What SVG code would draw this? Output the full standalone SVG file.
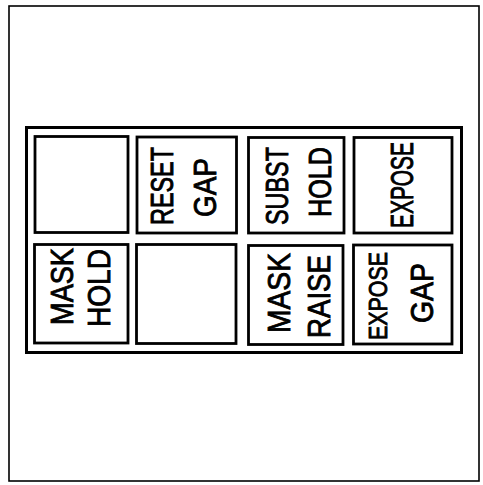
<svg xmlns="http://www.w3.org/2000/svg" width="483" height="485" viewBox="0 0 483 485">
<style>
.frame{fill:none;stroke:#000;stroke-width:1.6}
.box{fill:none;stroke:#000;stroke-width:3}
.cell{fill:#fff;stroke:#000;stroke-width:2.8}
text{font-family:"Liberation Sans",Arial,sans-serif;font-size:31px;fill:#000;stroke:#000;stroke-width:0.9;text-anchor:middle}
</style>
<rect width="483" height="485" fill="#fff"/>
<rect class="frame" x="9" y="6" width="470" height="475"/>
<g id="container"><rect class="box" x="26.5" y="127.5" width="435" height="225"/></g>
<g id="c11"><rect class="cell" x="35" y="136.5" width="93" height="96"/></g>
<g id="c12"><rect class="cell" x="137" y="137" width="99.5" height="96"/>
<text transform="translate(173,186) rotate(-90)" textLength="78" lengthAdjust="spacingAndGlyphs">RESET</text>
<text transform="translate(216,187.5) rotate(-90)" textLength="59" lengthAdjust="spacingAndGlyphs">GAP</text></g>
<g id="c13"><rect class="cell" x="248.5" y="137.5" width="95.5" height="95.5"/>
<text transform="translate(288,186) rotate(-90)" textLength="78" lengthAdjust="spacingAndGlyphs">SUBST</text>
<text transform="translate(331,182) rotate(-90)" textLength="70" lengthAdjust="spacingAndGlyphs">HOLD</text></g>
<g id="c14"><rect class="cell" x="354" y="137.5" width="98" height="95.5"/>
<text transform="translate(413,185) rotate(-90)" textLength="86" lengthAdjust="spacingAndGlyphs">EXPOSE</text></g>
<g id="c21"><rect class="cell" x="34.5" y="244.5" width="93.5" height="98.5"/>
<text transform="translate(73,286.5) rotate(-90)" textLength="77" lengthAdjust="spacingAndGlyphs">MASK</text>
<text transform="translate(110,288) rotate(-90)" textLength="78" lengthAdjust="spacingAndGlyphs">HOLD</text></g>
<g id="c22"><rect class="cell" x="136.5" y="244.5" width="99.5" height="99"/></g>
<g id="c23"><rect class="cell" x="248.5" y="245.5" width="94.5" height="99"/>
<text transform="translate(290,293) rotate(-90)" textLength="80" lengthAdjust="spacingAndGlyphs">MASK</text>
<text transform="translate(330,296.5) rotate(-90)" textLength="83" lengthAdjust="spacingAndGlyphs">RAISE</text></g>
<g id="c24"><rect class="cell" x="353.5" y="245" width="98.5" height="99"/>
<text transform="translate(387,296) rotate(-90)" textLength="88" lengthAdjust="spacingAndGlyphs" style="font-size:26px">EXPOSE</text>
<text transform="translate(433,293) rotate(-90)" textLength="60" lengthAdjust="spacingAndGlyphs">GAP</text></g>
</svg>
